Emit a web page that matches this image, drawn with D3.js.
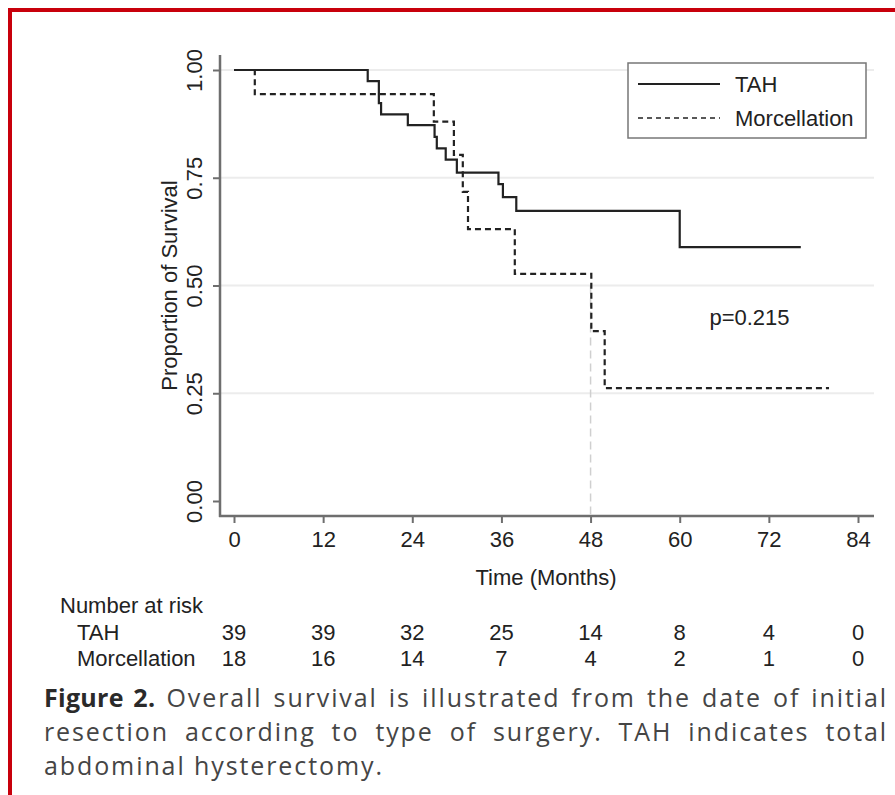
<!DOCTYPE html>
<html>
<head>
<meta charset="utf-8">
<script src="https://cdn.jsdelivr.net/npm/d3@7"></script>
<style>
  body { margin: 0; background: #fff; }
  #wrap { position: relative; width: 895px; height: 795px; overflow: hidden; }
  svg { position: absolute; left: 0; top: 0; }
  .chartText { font-family: "Liberation Sans", Arial, sans-serif; fill: #222; }
  #caption {
    position: absolute; left: 44px; top: 680px; width: 844px;
    font-family: "Open Sans", Lato, sans-serif; font-size: 25px; line-height: 34px; color: #454545;
    letter-spacing: 1.9px;
  }
  #caption .ln { text-align: justify; text-align-last: justify; white-space: nowrap; }
  #caption .ln.last { text-align-last: left; }
  #caption b { color: #2a2a2a; letter-spacing: 0.3px; }
</style>
</head>
<body>
<div id="wrap"><div id="chart"></div>
<div id="caption">
  <div class="ln"><b>Figure 2.</b> Overall survival is illustrated from the date of initial</div>
  <div class="ln">resection according to type of surgery. TAH indicates total</div>
  <div class="ln last">abdominal hysterectomy.</div>
</div>
</div>
<script>
// survival step data (months, proportion)
const tahTime = [0, 18, 19.5, 19.8, 23.4, 27.0, 27.3, 28.5, 30.0, 35.6, 36.2, 38.0, 60.0, 76.3];
const tahSurv = [1, 0.974, 0.923, 0.897, 0.872, 0.845, 0.818, 0.792, 0.762, 0.735, 0.705, 0.673, 0.589, 0.589];
const morTime = [0, 2.8, 26.9, 29.6, 30.8, 31.5, 37.8, 48.1, 49.9, 80.1];
const morSurv = [1, 0.944, 0.88, 0.803, 0.717, 0.631, 0.527, 0.394, 0.262, 0.262];

const xTicks = [0, 12, 24, 36, 48, 60, 72, 84];
const yTicks = [0, 0.25, 0.5, 0.75, 1];
const gridTicks = [0.25, 0.5, 0.75, 1];
const riskTah = [39, 39, 32, 25, 14, 8, 4, 0];
const riskMor = [18, 16, 14, 7, 4, 2, 1, 0];
const seriesNames = ["TAH", "Morcellation"];
const pLabel = "p=0.215";
const medianTime = 48;

const W = 895, H = 795;
const plotLeft = 220, plotRight = 874, plotTop = 55, plotBottom = 516;
const fs = 22;

const svg = d3.select("#chart").append("svg").attr("width", W).attr("height", H);

// red frame
svg.append("line").attr("x1", 8).attr("x2", W).attr("y1", 10).attr("y2", 10)
  .attr("stroke", "#c8000c").attr("stroke-width", 4);
svg.append("line").attr("x1", 10).attr("x2", 10).attr("y1", 8).attr("y2", H)
  .attr("stroke", "#c8000c").attr("stroke-width", 4);

const x = d3.scaleLinear().domain([0, 84]).range([234, 858]);
const y = d3.scaleLinear().domain([0, 1]).range([501, 70]);

// gridlines
svg.append("g").selectAll("line").data(gridTicks).enter().append("line")
  .attr("x1", plotLeft).attr("x2", plotRight)
  .attr("y1", d => y(d)).attr("y2", d => y(d))
  .attr("stroke", "#ececec").attr("stroke-width", 2);

// axes
const axisColor = "#6e6e6e";
const yAxisG = svg.append("g").attr("transform", `translate(${plotLeft},0)`)
  .call(d3.axisLeft(y).tickValues(yTicks).tickFormat(d3.format(".2f")).tickSize(7));
yAxisG.select(".domain").remove();
yAxisG.selectAll(".tick line").attr("stroke", axisColor).attr("stroke-width", 2);
yAxisG.selectAll(".tick text")
  .attr("class", "chartText").attr("font-size", fs)
  .attr("transform", "rotate(-90)").attr("x", 0).attr("y", -18).attr("dy", 0)
  .style("text-anchor", "middle");
yAxisG.append("line").attr("x1", 0).attr("x2", 0).attr("y1", plotTop).attr("y2", plotBottom + 1)
  .attr("stroke", axisColor).attr("stroke-width", 2.5);

const xAxisG = svg.append("g").attr("transform", `translate(0,${plotBottom})`)
  .call(d3.axisBottom(x).tickValues(xTicks).tickSize(7).tickPadding(8));
xAxisG.select(".domain").remove();
xAxisG.selectAll(".tick line").attr("stroke", axisColor).attr("stroke-width", 2);
xAxisG.selectAll(".tick text").attr("class", "chartText").attr("font-size", fs);
xAxisG.append("line").attr("x1", plotLeft - 1).attr("x2", plotRight).attr("y1", 0).attr("y2", 0)
  .attr("stroke", axisColor).attr("stroke-width", 2.5);

// axis titles
svg.append("text").attr("class", "chartText").attr("font-size", fs)
  .attr("transform", `translate(177,${y(0.5)}) rotate(-90)`)
  .style("text-anchor", "middle").text("Proportion of Survival");
svg.append("text").attr("class", "chartText").attr("font-size", fs)
  .attr("x", x(42)).attr("y", 585).style("text-anchor", "middle").text("Time (Months)");

// median reference line
svg.append("line")
  .attr("x1", x(medianTime)).attr("x2", x(medianTime))
  .attr("y1", y(0.5)).attr("y2", plotBottom)
  .attr("stroke", "#cfcfcf").attr("stroke-width", 1.5).attr("stroke-dasharray", "8,5");

// curves
const stepLine = d3.line().curve(d3.curveStepAfter).x(d => x(d[0])).y(d => y(d[1]));
const tahPts = d3.zip(tahTime, tahSurv);
const morPts = d3.zip(morTime, morSurv);

svg.append("path").datum(morPts).attr("d", stepLine)
  .attr("fill", "none").attr("stroke", "#222").attr("stroke-width", 2.2)
  .attr("stroke-dasharray", "6,4");
svg.append("path").datum(tahPts).attr("d", stepLine)
  .attr("fill", "none").attr("stroke", "#222").attr("stroke-width", 2.2);

// p value
svg.append("text").attr("class", "chartText").attr("font-size", fs)
  .attr("x", x(64)).attr("y", y(0.427)).attr("dy", "0.35em").text(pLabel);

// legend
const legend = svg.append("g").attr("transform", "translate(628,63)");
legend.append("rect").attr("width", 238).attr("height", 75)
  .attr("fill", "#fff").attr("stroke", "#777").attr("stroke-width", 1.5);
legend.selectAll("g.item").data(seriesNames).enter().append("g")
  .attr("class", "item")
  .attr("transform", (d, i) => `translate(0,${21 + i * 34})`)
  .each(function (d, i) {
    const g = d3.select(this);
    g.append("line").attr("x1", 10).attr("x2", 92).attr("y1", 0).attr("y2", 0)
      .attr("stroke", "#222").attr("stroke-width", i === 0 ? 2 : 1.6)
      .attr("stroke-dasharray", i === 0 ? null : "5,4");
    g.append("text").attr("class", "chartText").attr("font-size", fs)
      .attr("x", 107).attr("dy", "0.35em").text(d);
  });

// number at risk table
svg.append("text").attr("class", "chartText").attr("font-size", fs)
  .attr("x", 60).attr("y", 605).attr("dy", "0.35em").text("Number at risk");
const riskRows = [riskTah, riskMor];
riskRows.forEach(function (row, r) {
  const ry = 632 + r * 26;
  svg.append("text").attr("class", "chartText").attr("font-size", fs)
    .attr("x", 77).attr("y", ry).attr("dy", "0.35em").text(seriesNames[r]);
  svg.append("g").selectAll("text").data(row).enter().append("text")
    .attr("class", "chartText").attr("font-size", fs)
    .attr("x", (d, i) => x(xTicks[i])).attr("y", ry).attr("dy", "0.35em")
    .style("text-anchor", "middle").text(d => d);
});
</script>
</body>
</html>
